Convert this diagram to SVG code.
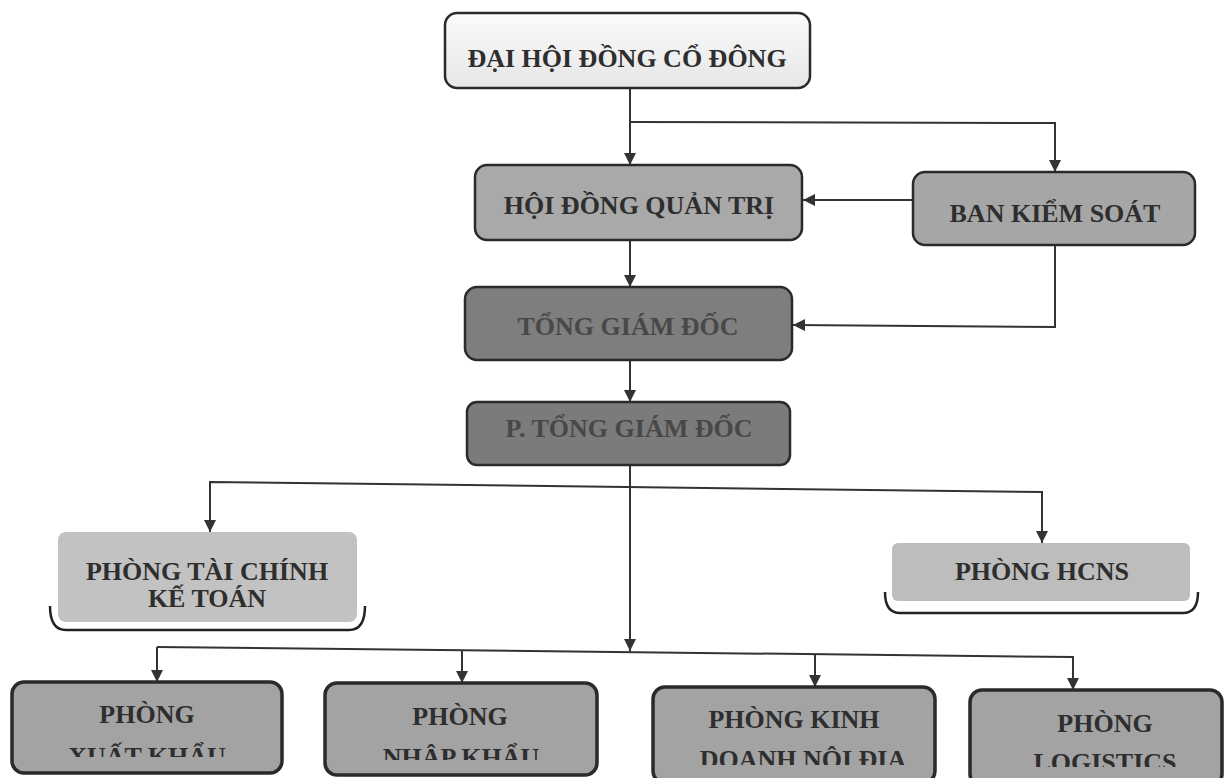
<svg xmlns="http://www.w3.org/2000/svg" width="1231" height="778" viewBox="0 0 1231 778">
<defs>
<marker id="arr" viewBox="0 0 12 12" refX="12" refY="6" markerWidth="12" markerHeight="12" markerUnits="userSpaceOnUse" orient="auto">
<path d="M0,0 L12,6 L0,12 Z" fill="#333"/>
</marker>
<linearGradient id="gTop" x1="0" y1="0" x2="0" y2="1">
<stop offset="0" stop-color="#fbfbfb"/>
<stop offset="1" stop-color="#e6e6e6"/>
</linearGradient>
<clipPath id="c1"><rect x="0" y="600" width="320" height="157"/></clipPath>
<clipPath id="c2"><rect x="320" y="600" width="300" height="160"/></clipPath>
<clipPath id="c3"><rect x="640" y="600" width="310" height="765"/></clipPath>
<clipPath id="c3b"><rect x="640" y="600" width="310" height="165"/></clipPath>
<clipPath id="c4"><rect x="950" y="600" width="281" height="167"/></clipPath>
</defs>
<style>
.t{font-family:"Liberation Serif","Times New Roman",serif;font-weight:bold;font-size:26px;text-anchor:middle;fill:#2e2e2e}
.tdark{fill:#484848}
.box{stroke:#2a2a2a;stroke-width:2.5}
.bot{stroke:#2a2a2a;stroke-width:3.5;fill:#a3a3a3}
.ln{fill:none;stroke:#333;stroke-width:2}
.br{fill:none;stroke:#222;stroke-width:2.5}
</style>
<rect width="1231" height="778" fill="#ffffff"/>

<g id="connectors">
<path class="ln" d="M630,88 L630,165" marker-end="url(#arr)"/>
<path class="ln" d="M630,122 L1055,123 L1055,172" marker-end="url(#arr)"/>
<path class="ln" d="M913,200 L803,200" marker-end="url(#arr)"/>
<path class="ln" d="M630,240 L630,287" marker-end="url(#arr)"/>
<path class="ln" d="M1055,245 L1055,327 L793,325" marker-end="url(#arr)"/>
<path class="ln" d="M630,360 L630,402" marker-end="url(#arr)"/>
<path class="ln" d="M630,465 L630,651" marker-end="url(#arr)"/>
<path class="ln" d="M210,532 L210,482 L1042,492 L1042,543" marker-end="url(#arr)"/>
<path class="ln" d="M210,482 L210,532" marker-end="url(#arr)"/>
<path class="ln" d="M157,647 L1073,657 L1073,690" marker-end="url(#arr)"/>
<path class="ln" d="M157,647 L157,682" marker-end="url(#arr)"/>
<path class="ln" d="M462,650 L462,683" marker-end="url(#arr)"/>
<path class="ln" d="M815,654 L815,687" marker-end="url(#arr)"/>
</g>

<g id="n-dhdcd">
<rect class="box" x="445" y="13" width="365" height="75" rx="12" fill="url(#gTop)"/>
<text class="t" x="627" y="67" fill="#222">ĐẠI HỘI ĐỒNG CỔ ĐÔNG</text>
</g>

<g id="n-hdqt">
<rect class="box" x="475" y="165" width="327" height="75" rx="12" fill="#a9a9a9"/>
<text class="t" x="639" y="214">HỘI ĐỒNG QUẢN TRỊ</text>
</g>

<g id="n-bks">
<rect class="box" x="913" y="172" width="282" height="73" rx="12" fill="#a6a6a6"/>
<text class="t" x="1055" y="222">BAN KIỂM SOÁT</text>
</g>

<g id="n-tgd">
<rect class="box" x="465" y="287" width="327" height="73" rx="12" fill="#7e7e7e"/>
<text class="t tdark" x="628" y="335">TỔNG GIÁM ĐỐC</text>
</g>

<g id="n-ptgd">
<rect class="box" x="467" y="402" width="323" height="63" rx="10" fill="#7b7b7b"/>
<text class="t tdark" x="629" y="437">P. TỔNG GIÁM ĐỐC</text>
</g>

<g id="n-tckt">
<rect x="58" y="532" width="299" height="90" rx="8" fill="#c2c2c2"/>
<path class="br" d="M50,606 Q50,630 66,630 L349,630 Q365,630 365,606"/>
<text class="t" x="207" y="580">PHÒNG TÀI CHÍNH</text>
<text class="t" x="207" y="607">KẾ TOÁN</text>
</g>

<g id="n-hcns">
<rect x="892" y="543" width="298" height="58" rx="6" fill="#bdbdbd"/>
<path class="br" d="M885,592 Q885,613 900,613 L1183,613 Q1198,613 1198,592"/>
<text class="t" x="1042" y="580">PHÒNG HCNS</text>
</g>

<g id="n-xk">
<rect class="bot" x="12" y="682" width="270" height="91" rx="12"/>
<text class="t" x="147" y="723">PHÒNG</text>
<text class="t" x="147" y="765" clip-path="url(#c1)">XUẤT KHẨU</text>
</g>

<g id="n-nk">
<rect class="bot" x="325" y="683" width="272" height="92" rx="12"/>
<text class="t" x="460" y="725">PHÒNG</text>
<text class="t" x="461" y="766" clip-path="url(#c2)">NHẬP KHẨU</text>
</g>

<g id="n-kd">
<rect class="bot" x="653" y="687" width="282" height="96" rx="12"/>
<text class="t" x="794" y="728">PHÒNG KINH</text>
<text class="t" x="803" y="768" clip-path="url(#c3b)">DOANH NỘI ĐỊA</text>
</g>

<g id="n-log">
<rect class="bot" x="970" y="690" width="252" height="96" rx="12"/>
<text class="t" x="1105" y="732">PHÒNG</text>
<text class="t" x="1105" y="771" clip-path="url(#c4)">LOGISTICS</text>
</g>
</svg>
